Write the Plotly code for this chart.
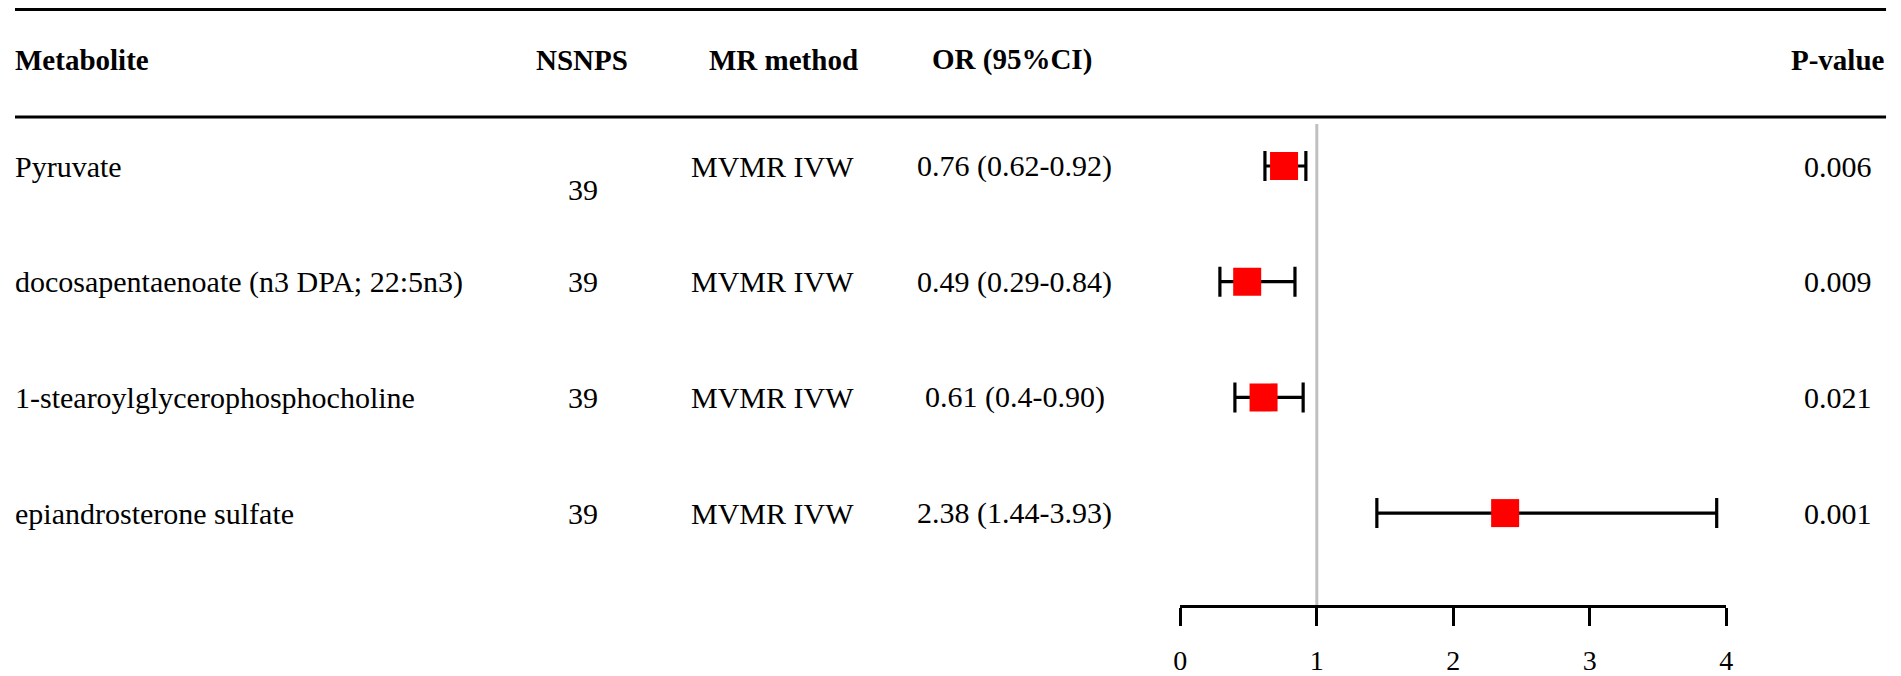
import plotly.graph_objects as go

# ---- data ----
metabolites = ["Pyruvate", "docosapentaenoate (n3 DPA; 22:5n3)",
               "1-stearoylglycerophosphocholine", "epiandrosterone sulfate"]
nsnps = ["39", "39", "39", "39"]
methods = ["MVMR IVW", "MVMR IVW", "MVMR IVW", "MVMR IVW"]
or_est = [0.76, 0.49, 0.61, 2.38]
ci_low = [0.62, 0.29, 0.40, 1.44]
ci_high = [0.92, 0.84, 0.90, 3.93]
or_text = ["0.76 (0.62-0.92)", "0.49 (0.29-0.84)", "0.61 (0.4-0.90)", "2.38 (1.44-3.93)"]
p_values = ["0.006", "0.009", "0.021", "0.001"]
headers = ["Metabolite", "NSNPS", "MR method", "OR (95%CI)", "P-value"]
x_ticks = [0, 1, 2, 3, 4]

# ---- layout constants (page pixels; the html body adds an 8px margin) ----
OFF = 8
W, H = 1901 - OFF, 676 - OFF
AXIS_Y = 605                      # page y of the x-axis line
PH = AXIS_Y - OFF                 # plot-area height in figure px
B = H - PH
ROW0, ROWSTEP = 166, 115.7        # page y of first row, row spacing
FONT = "Liberation Serif"


def py(p):                        # page y -> paper y
    return (PH - (p - OFF)) / PH


def px(p):                        # page x -> paper x
    return (p - OFF) / W


rows = list(range(len(metabolites)))
y_top = -(ROW0 - OFF) / ROWSTEP
y_bot = (PH - (ROW0 - OFF)) / ROWSTEP

fig = go.Figure()
fig.add_trace(go.Scatter(
    x=or_est, y=rows, mode="markers",
    marker=dict(symbol="square", size=28, color="#ff0000", line=dict(width=0)),
    error_x=dict(type="data", symmetric=False,
                 array=[h - o for h, o in zip(ci_high, or_est)],
                 arrayminus=[o - l for o, l in zip(or_est, ci_low)],
                 color="black", thickness=3.2, width=15),
    showlegend=False, hoverinfo="skip",
))

# reference line at OR = 1
fig.add_shape(type="line", xref="x", yref="paper", x0=1, x1=1,
              y0=0, y1=py(124), line=dict(color="#c0c0c0", width=3), layer="below")

# horizontal rules
for p in (9.6, 117):
    fig.add_shape(type="line", xref="paper", yref="paper", x0=px(8), x1=px(1893),
                  y0=py(p), y1=py(p), line=dict(color="black", width=3))

ann = []
hdr_y = py(60)
hdr_pos = [(6, "left"), (579, "center"), (782, "center"), (1012, "center"), (1894, "right")]
for t, (x, al) in zip(headers, hdr_pos):
    ann.append(dict(text="<b>%s</b>" % t, x=px(x), y=hdr_y, xref="paper", yref="paper",
                    xanchor=al, yanchor="middle", showarrow=False,
                    font=dict(family=FONT, size=29, color="black")))

for i in rows:
    f = dict(family=FONT, size=30, color="black")
    ann.append(dict(text=metabolites[i], x=px(6), y=i, xref="paper", yref="y",
                    xanchor="left", yanchor="middle", showarrow=False, font=f))
    ann.append(dict(text=nsnps[i], x=px(580), y=i, xref="paper", yref="y",
                    xanchor="center", yanchor="middle", showarrow=False, font=f,
                    yshift=-23 if i == 0 else 0))
    ann.append(dict(text=methods[i], x=px(771), y=i, xref="paper", yref="y",
                    xanchor="center", yanchor="middle", showarrow=False, font=f))
    ann.append(dict(text=or_text[i], x=px(1015), y=i, xref="paper", yref="y",
                    xanchor="center", yanchor="middle", showarrow=False, font=f))
    ann.append(dict(text=p_values[i], x=px(1845), y=i, xref="paper", yref="y",
                    xanchor="center", yanchor="middle", showarrow=False, font=f))

fig.update_layout(
    width=W, height=H, autosize=False,
    margin=dict(l=0, r=0, t=0, b=B),
    paper_bgcolor="white", plot_bgcolor="white",
    annotations=ann,
    xaxis=dict(domain=[px(1182), px(1732)], range=[0, 4], tickvals=x_ticks,
               ticktext=[str(v) for v in x_ticks],
               showgrid=False, zeroline=False, showline=True, linecolor="black",
               linewidth=3, ticks="outside", ticklen=18, tickwidth=3, tickcolor="black",
               tickfont=dict(family=FONT, size=28, color="black"),
               ticklabelstandoff=10, fixedrange=True),
    yaxis=dict(range=[y_bot, y_top], visible=False, showgrid=False, zeroline=False,
               fixedrange=True),
)

fig.write_html("out.html")
